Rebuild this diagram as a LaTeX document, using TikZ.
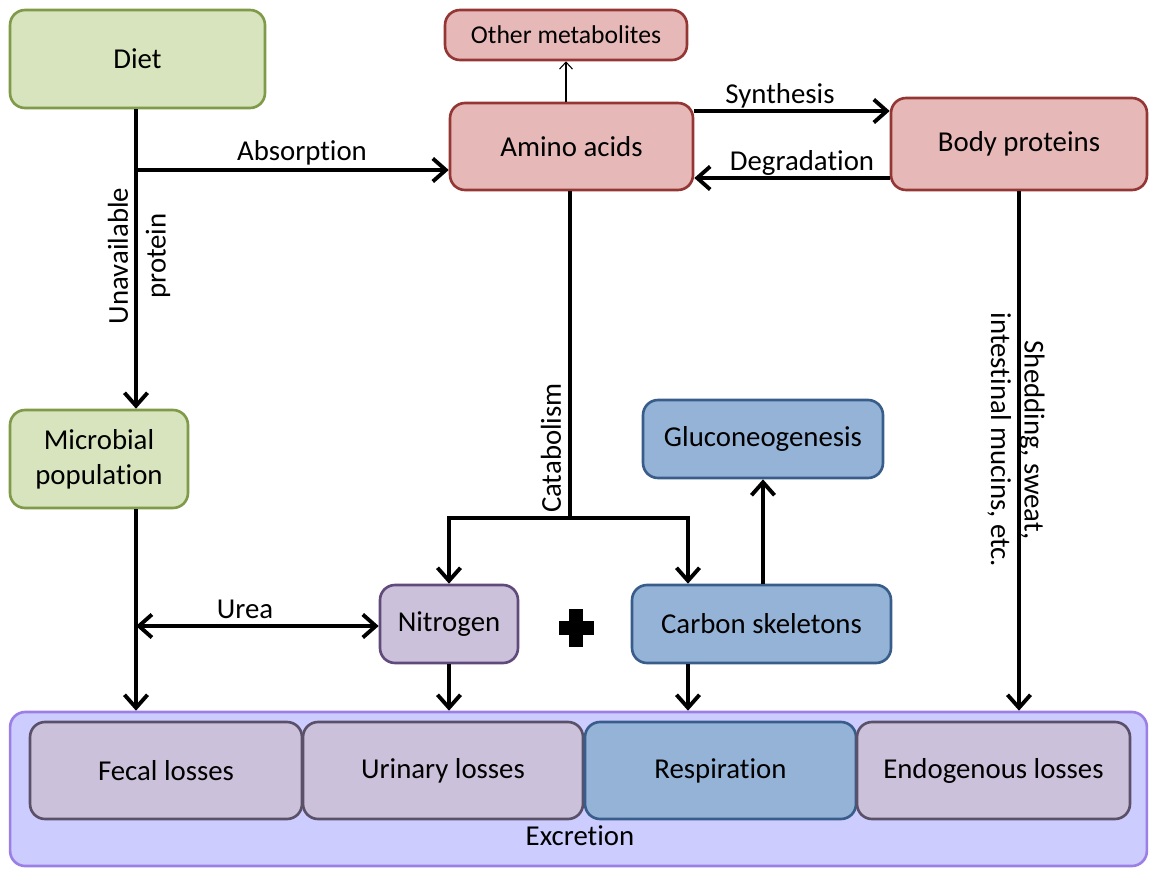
\documentclass[tikz,border=0pt]{standalone}
\usepackage{fontspec}
\setmainfont{Carlito}[Ligatures=NoCommon]
\usetikzlibrary{arrows.meta,calc}
\definecolor{gfill}{HTML}{D7E4BD}
\definecolor{gdraw}{HTML}{7F9A48}
\definecolor{pfill}{HTML}{E6B9B8}
\definecolor{pdraw}{HTML}{943634}
\definecolor{bfill}{HTML}{95B3D7}
\definecolor{bdraw}{HTML}{385D8A}
\definecolor{vfill}{HTML}{CCC1DA}
\definecolor{vdraw}{HTML}{604A7B}
\definecolor{efill}{HTML}{CCCCFF}
\definecolor{edraw}{HTML}{9B7FE6}
\definecolor{ldraw}{HTML}{5A5068}
\begin{document}
\begin{tikzpicture}[x=0.02cm,y=-0.02cm,
  box/.style={draw,line width=1.5pt,rounded corners=0.3cm,inner sep=0pt,align=center,
    font=\fontsize{16.4}{20}\selectfont},
  greenbox/.style={box,fill=gfill,draw=gdraw},
  pinkbox/.style={box,fill=pfill,draw=pdraw},
  bluebox/.style={box,fill=bfill,draw=bdraw},
  violetbox/.style={box,fill=vfill,draw=vdraw},
  lossbox/.style={box,fill=vfill,draw=ldraw},
  arr/.style={line width=2.2pt,-{Straight Barb[length=2.6mm,width=4.6mm]}},
  arrboth/.style={line width=2.2pt,{Straight Barb[length=2.6mm,width=4.6mm]}-{Straight Barb[length=2.6mm,width=4.6mm]}},
  plain/.style={line width=2.2pt},
  thinarr/.style={line width=0.6pt,-{Straight Barb[length=1.4mm,width=2.6mm]}},
  lbl/.style={font=\fontsize{16.4}{20}\selectfont,inner sep=0pt,align=center}]
\useasboundingbox (0,0) rectangle (1150,869);

% nodes
\node[greenbox,minimum width=5.1cm,minimum height=1.96cm] (diet) at (137.5,59) {Diet};
\node[pinkbox,minimum width=4.84cm,minimum height=1.0cm,font=\fontsize{14.6}{17}\selectfont] (other) at (566,35) {Other metabolites};
\node[pinkbox,minimum width=4.86cm,minimum height=1.74cm] (amino) at (571.5,146.5) {Amino acids};
\node[pinkbox,minimum width=5.12cm,minimum height=1.84cm] (body) at (1019,144) {Body proteins};
\node[greenbox,minimum width=3.56cm,minimum height=1.96cm] (micro) at (99,459) {Microbial\\population};
\node[bluebox,minimum width=4.8cm,minimum height=1.56cm] (gluco) at (763,439) {Gluconeogenesis};
\node[violetbox,minimum width=2.76cm,minimum height=1.56cm] (nitro) at (449,624) {Nitrogen};
\node[bluebox,minimum width=5.18cm,minimum height=1.56cm] (carbon) at (761.5,624) {Carbon skeletons};

\node[box,fill=efill,draw=edraw,minimum width=22.74cm,minimum height=3.08cm] (excr) at (578.5,789) {};
\node[lossbox,minimum width=5.44cm,minimum height=1.94cm] (fecal) at (166,770.5) {Fecal losses};
\node[lossbox,minimum width=5.6cm,minimum height=1.94cm] (urin) at (443,770.5) {Urinary losses};
\node[bluebox,minimum width=5.42cm,minimum height=1.94cm] (resp) at (720.5,770.5) {Respiration};
\node[lossbox,minimum width=5.46cm,minimum height=1.94cm] (endo) at (993.5,770.5) {Endogenous losses};
\node[lbl] (excrlbl) at (580,836) {Excretion};

% plus sign
\fill (558.5,621) rectangle (593.5,635);
\fill (569,609) rectangle (583,647);

% junction coordinates
\coordinate (jA) at (136,170);
\coordinate (jU) at (136,626);
\coordinate (cat) at (570,518);

% connectors
\draw[arr] (diet.south -| jA) -- (micro.north -| jA);
\draw[arr] (jA) -- (jA -| amino.west);
\draw[thinarr] (amino.north -| other.south) -- (other.south);
\draw[arr] ([yshift=0.71cm]amino.east) -- ([yshift=0.71cm]amino.east -| body.west);
\draw[arr] ([yshift=-0.63cm]amino.east -| body.west) -- ([yshift=-0.63cm]amino.east);
\draw[plain] (amino.south -| cat) -- (cat);
\draw[arr] (cat) -| (nitro.north);
\draw[arr] (cat) -| ($(carbon.north)+(-73.5,0)$);
\draw[arr] (carbon.north -| gluco.south) -- (gluco.south);
\draw[arr] (micro.south -| jA) -- (excr.north -| jA);
\draw[arrboth] (jU) -- (jU -| nitro.west);
\draw[arr] (nitro.south) -- (nitro.south |- excr.north);
\draw[arr] ($(carbon.south)+(-73.5,0)$) -- ($(carbon.south |- excr.north)+(-73.5,0)$);
\draw[arr] (body.south) -- (body.south |- excr.north);

% labels
\node[lbl] (labs) at (302,153) {Absorption};
\node[lbl] (lsyn) at (780,96) {Synthesis};
\node[lbl] (ldeg) at (802,163) {Degradation};
\node[lbl,rotate=90,font=\fontsize{16.4}{21.5}\selectfont] (lunav) at (139,256) {Unavailable\\protein};
\node[lbl,rotate=90] (lcat) at (551,448) {Catabolism};
\node[lbl,rotate=-90,font=\fontsize{16.4}{19}\selectfont] (lshed) at (1016,440) {Shedding, sweat,\\intestinal mucins, etc.};
\node[lbl] (lurea) at (245,609) {Urea};
\end{tikzpicture}
\end{document}
